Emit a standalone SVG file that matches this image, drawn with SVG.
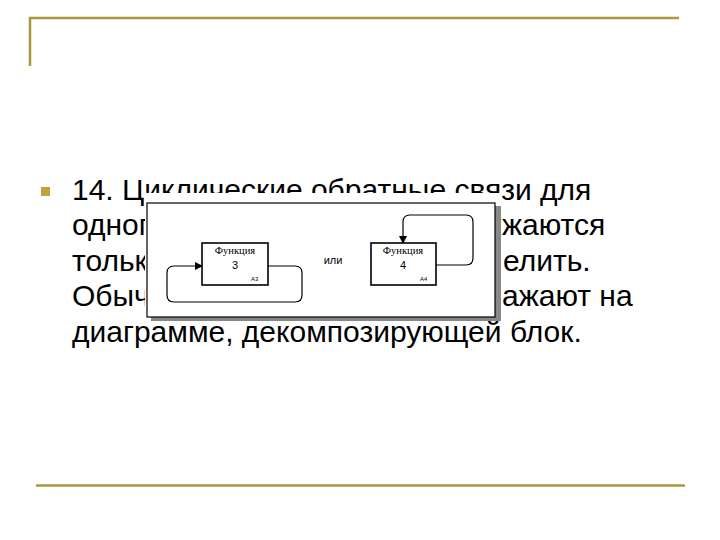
<svg xmlns="http://www.w3.org/2000/svg" width="720" height="540" viewBox="0 0 720 540">
<style>
.gold{stroke:#A89A3C;stroke-width:2.5;fill:none}
.main{font-family:"Liberation Sans",Arial,sans-serif;font-size:30px;fill:#000}
.fn{font-family:"Liberation Serif","Times New Roman",serif;font-size:10.5px;fill:#000;text-anchor:middle}
.num{font-family:"Liberation Sans",Arial,sans-serif;font-size:11px;fill:#000;text-anchor:middle}
.code{font-family:"Liberation Sans",Arial,sans-serif;font-size:6px;fill:#000}
.box{fill:#fff;stroke:#000;stroke-width:1.6}
.link{fill:none;stroke:#000;stroke-width:1.2}
</style>
<defs>
<marker id="arr" markerWidth="8" markerHeight="8" refX="7" refY="4" orient="auto" markerUnits="userSpaceOnUse">
<path d="M0,0 L8,4 L0,8 Z" fill="#000"/>
</marker>
</defs>
<rect width="720" height="540" fill="#fff"/>
<g id="frame">
<path class="gold" d="M30,66 V18 H679"/>
<path class="gold" d="M36,485.5 H685"/>
</g>
<g id="bullet-text">
<rect x="41" y="187" width="9" height="9" fill="#BFA23A"/>
<text class="main" x="72" y="200">14. Циклические обратные связи для</text>
<text class="main" x="72" y="235">одног</text>
<text class="main" x="502" y="235">жаются</text>
<text class="main" x="72" y="271">тольк</text>
<text class="main" x="503" y="271">елить.</text>
<text class="main" x="72" y="306">Обыч</text>
<text class="main" x="502" y="306">ажают на</text>
<text class="main" x="72" y="342">диаграмме, декомпозирующей блок.</text>
</g>
<g id="picture">
<rect x="145" y="193" width="357" height="128" fill="#fff"/>
<rect x="495" y="206" width="6" height="115" fill="#888"/>
<rect x="151" y="317" width="350" height="4" fill="#888"/>
<rect x="147" y="203" width="348" height="114" fill="#fff" stroke="#000" stroke-width="1.2"/>
<text x="333" y="264" font-family="'Liberation Sans',Arial,sans-serif" font-size="11" text-anchor="middle">или</text>
</g>
<g id="connectors">
<path class="link" marker-end="url(#arr)" d="M268,266 H295 Q302,266 302,273 V295 Q302,302 295,302 H174 Q167,302 167,295 V273 Q167,266 174,266 H202"/>
<path class="link" marker-end="url(#arr)" d="M436,265 H466 Q473,265 473,258 V222 Q473,215 466,215 H410 Q403,215 403,222 V243"/>
</g>
<g id="func3">
<rect class="box" x="202" y="243" width="66" height="42"/>
<text class="fn" x="235" y="254">Функция</text>
<text class="num" x="235" y="269">3</text>
<text class="code" x="251" y="281">А3</text>
</g>
<g id="func4">
<rect class="box" x="371" y="243" width="65" height="42"/>
<text class="fn" x="403" y="254">Функция</text>
<text class="num" x="403" y="269">4</text>
<text class="code" x="420" y="281">А4</text>
</g>
</svg>
